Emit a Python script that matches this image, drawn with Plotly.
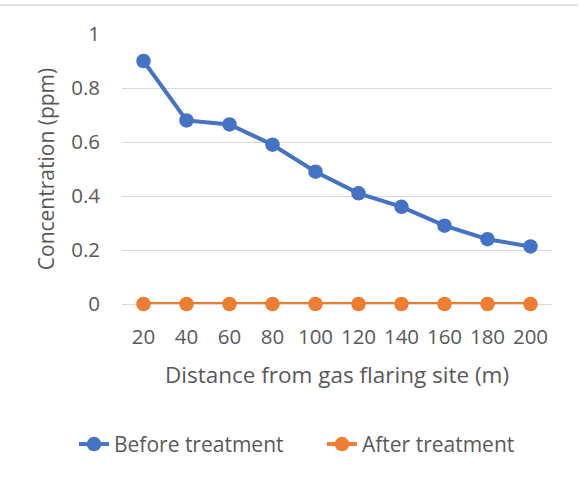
import plotly.graph_objects as go

distances = ["20", "40", "60", "80", "100", "120", "140", "160", "180", "200"]
before = [0.90, 0.68, 0.665, 0.59, 0.49, 0.41, 0.36, 0.29, 0.24, 0.213]
after = [0, 0, 0, 0, 0, 0, 0, 0, 0, 0]

FONT = "Open Sans"
GREY = "#595959"

fig = go.Figure()
fig.add_trace(go.Scatter(x=distances, y=before, name="Before treatment", mode="lines+markers",
                         line=dict(color="#4472C4", width=4), marker=dict(size=14.5, color="#4472C4"),
                         cliponaxis=False))
fig.add_trace(go.Scatter(x=distances, y=after, name="After treatment", mode="lines+markers",
                         line=dict(color="#ED7D31", width=4), marker=dict(size=14.5, color="#ED7D31"),
                         cliponaxis=False))

L, R, T, B = 122, 27, 34, 175
W, H = 579, 479
pw = W - L - R
ph = H - T - B

fig.update_layout(
    width=W, height=H,
    margin=dict(l=L, r=R, t=T, b=B),
    paper_bgcolor="white", plot_bgcolor="white",
    font=dict(family=FONT, color=GREY, size=20),
    showlegend=True,
    legend=dict(orientation="h", x=(74 - L) / pw, xanchor="left", y=-0.52, yanchor="middle",
                font=dict(size=21, color=GREY), itemwidth=30, traceorder="normal",
                entrywidth=203, entrywidthmode="pixels"),
    xaxis=dict(type="category", range=[-0.5, 9.5], showgrid=False, zeroline=False,
               showline=False, ticks="", tickfont=dict(size=20.5, color=GREY), ticklabelstandoff=18,
               title=dict(text="Distance from gas flaring site (m)", font=dict(size=22.5, color=GREY), standoff=18)),
    yaxis=dict(range=[0, 1], tickvals=[0, 0.2, 0.4, 0.6, 0.8, 1],
               ticktext=["0", "0.2", "0.4", "0.6", "0.8", "1"],
               showgrid=True, gridcolor="#D9D9D9", gridwidth=1, zeroline=True, zerolinecolor="#D9D9D9",
               zerolinewidth=1, showline=False, ticks="", ticklabelstandoff=21,
               tickfont=dict(size=20.5, color=GREY),
               title=dict(text="Concentration (ppm)", font=dict(size=21, color=GREY), standoff=10)),
    shapes=[dict(type="line", xref="paper", yref="paper",
                 x0=-L / pw, x1=(W - 1 - L) / pw, y0=(H - B - 5) / ph, y1=(H - B - 5) / ph,
                 line=dict(color="#D9D9D9", width=1.5))],
)

fig.write_html("out.html")
